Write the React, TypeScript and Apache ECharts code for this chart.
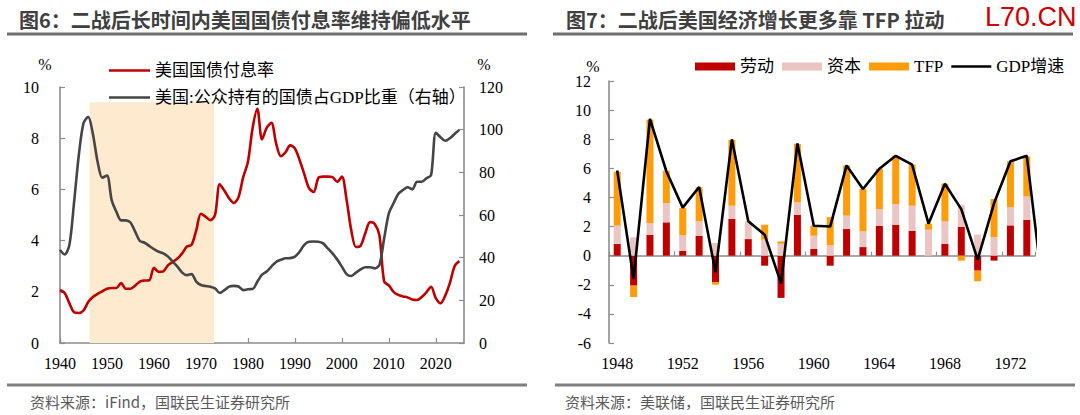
import { useEffect, useRef } from "react";
import * as echarts from "echarts";

// ---------- Figure 6: interest rate vs. publicly held debt ----------
const rateStartYear = 1940;
// Average interest rate on US Treasury debt, %
const interestRate = [
  2.07, 1.95, 1.55, 1.2, 1.17, 1.27, 1.6, 1.8, 1.92, 2.02,
  2.12, 2.15, 2.15, 2.34, 2.12, 2.12, 2.24, 2.4, 2.44, 2.45,
  2.94, 2.78, 2.8, 3.04, 3.17, 3.3, 3.5, 3.77, 3.83, 4.4,
  5.05, 4.93, 4.8, 5.0, 6.2, 5.95, 5.65, 5.47, 5.7, 6.48,
  7.07, 8.4, 9.15, 7.95, 8.4, 8.6, 7.8, 7.3, 7.45, 7.72,
  7.6, 7.15, 6.6, 6.05, 5.9, 6.45, 6.5, 6.5, 6.48, 6.3,
  6.5, 5.6, 4.4, 3.75, 3.8, 4.3, 4.72, 4.65, 4.2, 2.4,
  2.25, 2.0, 1.88, 1.82, 1.78, 1.7, 1.68, 1.8, 1.98, 2.2,
  1.75, 1.55, 1.85, 2.35, 3.0, 3.2,
];
// Debt held by the public, % of GDP (right axis)
const publicDebtToGdp = [
  43.6, 41.5, 46, 66, 88, 103, 106, 98, 85, 77.5,
  78.5, 67, 61.5, 57.5, 57.5, 56.5, 52.2, 47.8, 47, 45.5,
  44, 42.8, 42, 40.5, 38.1, 35.8, 33, 31.8, 32.3, 28.8,
  27.2, 26.7, 26.4, 25.6, 23.5, 24.8, 26.4, 26.8, 26.5, 24.8,
  25.2, 25.3, 28.7, 32, 33.5, 35.8, 38, 39, 39.7, 39.8,
  40.5, 42.8, 46, 47.5, 47.6, 47.5, 46.7, 44.4, 42, 39.2,
  35.8, 32.3, 31.4, 33, 34.5, 35.5, 35.5, 35, 36.6, 49,
  60.8, 65.5, 69.9, 71.7, 73, 72, 75.6, 75.6, 77.2, 78.8,
  98.5, 96.5, 94.8, 96, 98, 99.9,
];
// Highlighted low-rate period
const shadedPeriod = [1946.3, 1972.8];
const shadedTop = 9.4;

// ---------- Figure 7: growth accounting ----------
const growthYears = [
  "1948", "1949", "1950", "1951", "1952", "1953", "1954", "1955", "1956",
  "1957", "1958", "1959", "1960", "1961", "1962", "1963", "1964", "1965",
  "1966", "1967", "1968", "1969", "1970", "1971", "1972", "1973",
];
const labor = [
  0.8, -2.06, 1.42, 2.29, 0.34, 1.37, -1.81, 2.52, 1.14,
  -0.69, -2.9, 2.81, 0.46, -0.69, 1.83, 0.59, 2.06, 2.13,
  1.72, 0.0, 0.82, 1.97, -1.03, -0.34, 2.08, 2.47,
];
const capital = [
  1.26, 1.26, 0.82, 1.33, 1.06, 0.99, 0.87, 0.91, 1.22,
  1.1, 0.82, 0.85, 0.91, 0.71, 0.92, 1.08, 1.14, 1.42,
  1.71, 1.78, 1.54, 1.53, 1.44, 1.28, 1.24, 1.6,
];
const tfp = [
  3.7, -0.78, 7.1, 2.22, 1.87, 2.33, -0.18, 4.52, 0.0,
  1.03, 0.16, 4.02, 0.69, 1.94, 3.45, 2.91, 2.77, 3.31,
  2.82, 0.42, 2.58, -0.34, -0.73, 2.61, 3.16, 2.75,
];
const gdpYears = [
  1948, 1949, 1950, 1951, 1952, 1953, 1954, 1955, 1956, 1957, 1958, 1959,
  1960, 1961, 1962, 1963, 1964, 1965, 1966, 1967, 1968, 1969, 1970, 1971,
  1972, 1973, 1974,
];
const gdpGrowth = [
  5.85, -1.6, 9.4, 5.8, 3.3, 4.72, -1.14, 7.99, 2.36, 1.44, -1.9, 7.71,
  2.06, 2.0, 6.2, 4.58, 5.97, 6.86, 6.25, 2.2, 4.94, 3.2, -0.27, 3.6,
  6.48, 6.86, -2.5,
];

const RED = "#C00000";
const GREY_LINE = "#454545";
const PINK = "#EBC4C4";
const ORANGE = "#FF9C0A";
const AXIS = "#8c8c8c";
const SHADE = "#FDEACF";
const SERIF = "'Liberation Serif', 'Times New Roman', 'Noto Sans CJK SC', serif";
const CJK = "'Noto Sans CJK SC', sans-serif";
// thin horizontal bar used as the legend icon of line series
const LINE_ICON = "path://M0,0H40V2.5H0Z";

const axisLineStyle = { color: AXIS, width: 1.6 };
const tickLabel = { color: "#000", fontSize: 16, fontFamily: SERIF };

function buildOption() {
  const rateData = interestRate.map((v, i) => [rateStartYear + i, v]);
  const debtData = publicDebtToGdp.map((v, i) => [rateStartYear + i, v]);
  const gdpData = gdpGrowth.map((v, i) => [gdpYears[i], v]);

  const text = (x: number, y: number, s: string, font: string, fill: string, align = "left") => ({
    type: "text",
    x,
    y,
    silent: true,
    style: { text: s, font, fill, align, verticalAlign: "middle" },
  });
  const rule = (x1: number, x2: number, y: number, w: number, c: string) => ({
    type: "line",
    silent: true,
    shape: { x1, y1: y, x2, y2: y },
    style: { stroke: c, lineWidth: w },
  });

  return {
    animation: false,
    backgroundColor: "#fff",
    textStyle: { fontFamily: SERIF },
    grid: [
      { left: 60, top: 87, width: 404, height: 256 },
      { left: 609, top: 81, width: 426, height: 262 },
    ],
    legend: [
      {
        orient: "vertical",
        left: 104,
        top: 57,
        itemWidth: 41,
        itemHeight: 8,
        itemGap: 10,
        textStyle: { color: "#000", fontSize: 17, lineHeight: 17, fontFamily: SERIF },
        data: [
          { name: "美国国债付息率", icon: LINE_ICON },
          { name: "美国:公众持有的国债占GDP比重（右轴）", icon: LINE_ICON },
        ],
      },
      {
        orient: "horizontal",
        left: 690,
        top: 53,
        itemWidth: 40,
        itemHeight: 8,
        itemGap: 8,
        textStyle: { color: "#000", fontSize: 17, lineHeight: 17, fontFamily: SERIF },
        data: [
          { name: "劳动", icon: "rect" },
          { name: "资本", icon: "rect" },
          { name: "TFP", icon: "rect" },
          { name: "GDP增速", icon: LINE_ICON },
        ],
      },
    ],
    xAxis: [
      {
        type: "value",
        gridIndex: 0,
        min: 1940,
        max: 2026,
        interval: 10,
        axisLine: { show: true, onZero: false, lineStyle: axisLineStyle },
        axisTick: { show: true, inside: true, length: 5, lineStyle: { color: AXIS, width: 1.2 } },
        axisLabel: { ...tickLabel, margin: 12, showMaxLabel: false, formatter: (v: number) => String(v) },
        splitLine: { show: false },
      },
      {
        type: "category",
        gridIndex: 1,
        position: "bottom",
        data: growthYears,
        boundaryGap: true,
        axisLine: { show: false, onZero: false },
        axisTick: { show: false },
        axisLabel: { ...tickLabel, margin: 12, interval: 3 },
        splitLine: { show: false },
      },
      {
        type: "category",
        gridIndex: 1,
        position: "bottom",
        data: growthYears,
        boundaryGap: true,
        axisLine: { show: true, onZero: true, lineStyle: axisLineStyle },
        axisTick: { show: true, inside: true, interval: 3, length: 4, lineStyle: { color: AXIS, width: 1.2 } },
        axisLabel: { show: false },
        splitLine: { show: false },
      },
      {
        type: "value",
        gridIndex: 1,
        min: 1947.5,
        max: 1973.5,
        show: false,
      },
    ],
    yAxis: [
      {
        type: "value",
        gridIndex: 0,
        position: "left",
        min: 0,
        max: 10,
        interval: 2,
        axisLine: { show: true, onZero: false, lineStyle: axisLineStyle },
        axisTick: { show: true, inside: true, length: 5, lineStyle: { color: AXIS, width: 1.2 } },
        axisLabel: { ...tickLabel, margin: 21 },
        splitLine: { show: false },
      },
      {
        type: "value",
        gridIndex: 0,
        position: "right",
        min: 0,
        max: 120,
        interval: 20,
        axisLine: { show: true, onZero: false, lineStyle: axisLineStyle },
        axisTick: { show: true, inside: true, length: 5, lineStyle: { color: AXIS, width: 1.2 } },
        axisLabel: { ...tickLabel, margin: 15 },
        splitLine: { show: false },
      },
      {
        type: "value",
        gridIndex: 1,
        position: "left",
        min: -6,
        max: 12,
        interval: 2,
        axisLine: { show: true, onZero: false, lineStyle: axisLineStyle },
        axisTick: { show: true, inside: true, length: 5, lineStyle: { color: AXIS, width: 1.2 } },
        axisLabel: { ...tickLabel, margin: 18 },
        splitLine: { show: false },
      },
    ],
    series: [
      {
        name: "美国国债付息率",
        type: "line",
        xAxisIndex: 0,
        yAxisIndex: 0,
        data: rateData,
        smooth: 0.3,
        symbol: "none",
        lineStyle: { color: RED, width: 2.6 },
        itemStyle: { color: RED },
        z: 3,
        markArea: {
          silent: true,
          itemStyle: { color: SHADE },
          data: [[{ xAxis: shadedPeriod[0], yAxis: 0 }, { xAxis: shadedPeriod[1], yAxis: shadedTop }]],
        },
      },
      {
        name: "美国:公众持有的国债占GDP比重（右轴）",
        type: "line",
        xAxisIndex: 0,
        yAxisIndex: 1,
        data: debtData,
        smooth: 0.3,
        symbol: "none",
        lineStyle: { color: GREY_LINE, width: 2.6 },
        itemStyle: { color: GREY_LINE },
        z: 3,
      },
      {
        name: "劳动",
        type: "bar",
        xAxisIndex: 1,
        yAxisIndex: 2,
        stack: "growth",
        barWidth: 7,
        data: labor,
        itemStyle: { color: RED },
      },
      {
        name: "资本",
        type: "bar",
        xAxisIndex: 1,
        yAxisIndex: 2,
        stack: "growth",
        barWidth: 7,
        data: capital,
        itemStyle: { color: PINK },
      },
      {
        name: "TFP",
        type: "bar",
        xAxisIndex: 1,
        yAxisIndex: 2,
        stack: "growth",
        barWidth: 7,
        data: tfp,
        itemStyle: { color: ORANGE },
      },
      {
        name: "GDP增速",
        type: "line",
        xAxisIndex: 3,
        yAxisIndex: 2,
        data: gdpData,
        symbol: "none",
        clip: true,
        lineStyle: { color: "#000", width: 2.6 },
        itemStyle: { color: "#000" },
        z: 4,
      },
    ],
    graphic: [
      text(19, 19, "图6：二战后长时间内美国国债付息率维持偏低水平", `bold 20px ${CJK}`, "#404040"),
      text(566, 19, "图7：二战后美国经济增长更多靠 TFP 拉动", `bold 20px ${CJK}`, "#404040"),
      text(985, 17, "L70.CN", `27px 'Liberation Sans', Arial, sans-serif`, "#D00000"),
      rule(7, 527, 34, 3, "#6f6f6f"),
      rule(553, 1073, 34, 3, "#6f6f6f"),
      text(45, 64, "%", `16px ${SERIF}`, "#000", "center"),
      text(484, 64, "%", `16px ${SERIF}`, "#000", "center"),
      text(593, 66, "%", `16px ${SERIF}`, "#000", "center"),
      rule(7, 527, 385, 3, "#7f7f7f"),
      rule(555, 1075, 385, 3, "#7f7f7f"),
      text(30, 401, "资料来源：iFind，国联民生证券研究所", `15px ${CJK}`, "#595959"),
      text(565, 401, "资料来源：美联储，国联民生证券研究所", `15px ${CJK}`, "#595959"),
    ],
  };
}

export default function App() {
  const ref = useRef<HTMLDivElement>(null);

  useEffect(() => {
    if (!ref.current) return;
    const chart = echarts.init(ref.current, undefined, { renderer: "svg" });
    chart.setOption(buildOption() as any);
    return () => chart.dispose();
  }, []);

  return (
    <div
      ref={ref}
      style={{ position: "absolute", left: 0, top: 0, width: 1080, height: 415, background: "#fff" }}
    />
  );
}
